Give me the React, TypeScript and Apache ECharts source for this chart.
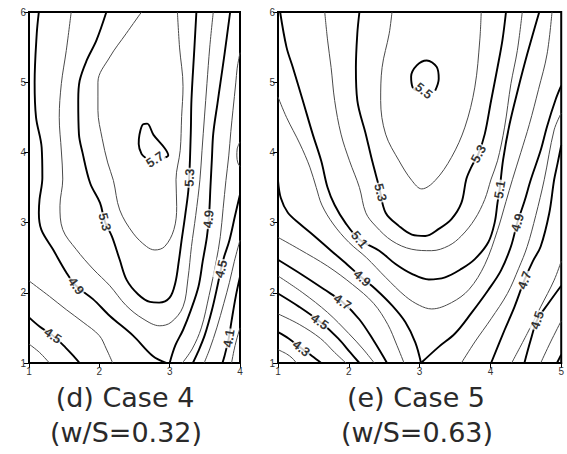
import React, { useEffect, useRef } from "react";
import * as echarts from "echarts";

// ---------- Case 4 (w/S = 0.32), x: 1..4, y: 1..6 ----------
const xRange4 = [1, 4];
const yRange = [1, 6];
const majors4 = [4.1, 4.5, 4.9, 5.3, 5.7];

const c4_49L = [[1.14,6],[1.11,5.69],[1.08,5.0],[1.10,4.5],[1.18,4.07],[1.19,3.64],[1.15,3.33],[1.14,3.14],[1.175,2.9],[1.34,2.62],[1.53,2.29],[1.67,2.1],[1.91,1.91],[2.15,1.67],[2.48,1.39],[2.76,1.10],[2.95,1.0]];
const c4_49R = [[3.0,1.0],[3.08,1.25],[3.19,1.47],[3.30,1.75],[3.41,2.09],[3.47,2.45],[3.53,2.80],[3.56,3.1],[3.58,3.51],[3.60,3.9],[3.62,4.27],[3.68,4.7],[3.72,4.98],[3.78,5.4],[3.86,6.0]];
const c4_51 = [[1.60,6],[1.53,5.45],[1.46,4.98],[1.43,4.5],[1.46,4.02],[1.48,3.62],[1.44,3.24],[1.48,2.9],[1.67,2.62],[1.91,2.34],[2.15,2.1],[2.38,1.82],[2.62,1.63],[2.86,1.53],[3.02,1.58],[3.19,1.80],[3.26,2.2],[3.31,2.66],[3.37,3.1],[3.43,3.61],[3.46,4.03],[3.53,4.98],[3.57,5.5],[3.62,6]];
const c4_53 = [[2.10,6],[1.96,5.60],[1.82,5.31],[1.72,5.02],[1.70,4.74],[1.71,4.26],[1.76,4.0],[1.87,3.56],[2.01,3.28],[2.08,3.01],[2.18,2.80],[2.29,2.47],[2.39,2.18],[2.55,1.98],[2.72,1.87],[2.85,1.86],[3.0,1.93],[3.08,2.14],[3.13,2.45],[3.17,2.75],[3.22,3.1],[3.27,3.51],[3.30,4.27],[3.31,4.75],[3.35,5.46],[3.38,6]];
const c4_55 = [[2.60,6],[2.38,5.69],[2.15,5.36],[1.98,5.0],[1.98,4.6],[2.04,4.2],[2.12,3.85],[2.20,3.6],[2.29,3.18],[2.48,2.85],[2.67,2.66],[2.79,2.61],[2.93,2.66],[3.06,2.9],[3.10,3.23],[3.09,3.61],[3.15,4.03],[3.17,4.51],[3.19,4.94],[3.14,5.5],[3.11,6]];
const c4_57 = [[2.92,3.92],[2.98,3.96],[2.93,4.06],[2.77,4.25],[2.68,4.41],[2.62,4.40],[2.57,4.25],[2.56,4.12],[2.60,3.98],[2.66,3.92]];
const c4_47R = [[4.0,5.42],[3.96,5.2],[3.94,4.99],[3.90,4.6],[3.87,4.3],[3.84,3.95],[3.80,3.6],[3.76,3.2],[3.72,2.8],[3.66,2.44],[3.56,1.96],[3.45,1.5],[3.32,1.2],[3.18,1.0]];
const c4_47W = [[4.0,4.15],[3.96,4.05],[3.955,3.95],[3.97,3.85],[4.0,3.8]];
const c4_45R = [[4.0,3.4],[3.93,3.1],[3.85,2.75],[3.77,2.5],[3.73,2.34],[3.68,2.1],[3.60,1.75],[3.50,1.4],[3.40,1.15],[3.33,1.0]];
const c4_43R = [[4.0,2.75],[3.92,2.45],[3.85,2.15],[3.77,1.85],[3.67,1.5],[3.57,1.2],[3.49,1.0]];
const c4_41R = [[4.0,2.23],[3.94,1.95],[3.88,1.6],[3.84,1.35],[3.78,1.1],[3.75,1.0]];
const c4_39R = [[4.0,1.5],[3.93,1.25],[3.88,1.0]];
const c4_47L = [[1.0,2.17],[1.29,1.95],[1.53,1.76],[1.77,1.58],[2.0,1.39],[2.10,1.2],[2.19,1.0]];
const c4_45L = [[1.0,1.65],[1.15,1.52],[1.34,1.39],[1.52,1.22],[1.65,1.08],[1.72,1.0]];
const c4_43L = [[1.0,1.27],[1.15,1.15],[1.29,1.0]];

const lines4 = [
  { level: 4.9, pts: c4_49L }, { level: 4.9, pts: c4_49R }, { level: 5.1, pts: c4_51 },
  { level: 5.3, pts: c4_53 }, { level: 5.5, pts: c4_55 }, { level: 5.7, pts: c4_57 },
  { level: 4.7, pts: c4_47R }, { level: 4.7, pts: c4_47W }, { level: 4.5, pts: c4_45R },
  { level: 4.3, pts: c4_43R }, { level: 4.1, pts: c4_41R }, { level: 3.9, pts: c4_39R },
  { level: 4.7, pts: c4_47L }, { level: 4.5, pts: c4_45L }, { level: 4.3, pts: c4_43L },
];
const labels4 = [["4.9",1.67,2.1],["5.3",2.08,3.01],["4.5",1.34,1.39],["5.7",2.79,3.9],["5.3",3.28,3.64],["4.9",3.55,3.05],["4.5",3.73,2.34],["4.1",3.84,1.35]];

// ---------- Case 5 (w/S = 0.63), x: 1..5, y: 1..6 ----------
const xRange5 = [1, 5];
const majors5 = [4.3, 4.5, 4.7, 4.9, 5.1, 5.3, 5.5];

const c5_55 = [[3.22,4.88],[3.27,5.05],[3.24,5.22],[3.10,5.31],[2.96,5.24],[2.88,5.08],[2.90,4.93],[2.96,4.88]];
const c5_54 = [[2.61,6],[2.57,5.69],[2.47,5.21],[2.45,4.74],[2.52,4.26],[2.71,3.88],[2.89,3.60],[3.03,3.48],[3.22,3.60],[3.45,3.93],[3.64,4.36],[3.78,4.93],[3.85,5.60],[3.87,6]];
const c5_53 = [[2.15,6],[2.12,5.69],[2.10,5.21],[2.12,4.74],[2.24,4.26],[2.33,3.88],[2.43,3.5],[2.52,3.14],[2.71,2.95],[2.89,2.83],[3.08,2.81],[3.27,2.91],[3.45,3.05],[3.59,3.28],[3.66,3.62],[3.73,3.79],[3.83,3.98],[3.92,4.26],[4.01,4.74],[4.10,5.21],[4.17,5.6],[4.22,6]];
const c5_52 = [[1.66,6],[1.70,5.6],[1.75,5.21],[1.80,4.74],[1.89,4.26],[2.01,3.88],[2.15,3.5],[2.24,3.14],[2.38,2.95],[2.61,2.74],[2.89,2.62],[3.17,2.60],[3.41,2.67],[3.59,2.81],[3.78,3.05],[3.92,3.33],[4.01,3.62],[4.10,3.88],[4.20,4.36],[4.29,4.98],[4.38,5.45],[4.45,6]];
const c5_51 = [[1.03,6],[1.12,5.5],[1.21,5.21],[1.35,4.74],[1.49,4.26],[1.61,3.88],[1.70,3.5],[1.80,3.25],[1.95,3.0],[2.15,2.76],[2.43,2.60],[2.66,2.41],[2.89,2.27],[3.13,2.19],[3.36,2.22],[3.59,2.34],[3.78,2.48],[3.97,2.72],[4.06,3.0],[4.10,3.28],[4.13,3.47],[4.18,3.9],[4.27,4.4],[4.39,4.9],[4.52,5.4],[4.69,6]];
const c5_50 = [[1.0,4.79],[1.12,4.5],[1.31,4.12],[1.45,3.79],[1.54,3.5],[1.62,3.25],[1.78,2.98],[2.0,2.72],[2.25,2.5],[2.52,2.22],[2.80,1.95],[3.0,1.82],[3.17,1.77],[3.45,1.86],[3.70,2.05],[3.92,2.4],[4.10,2.89],[4.22,3.3],[4.31,3.61],[4.43,4.0],[4.55,4.4],[4.68,4.9],[4.80,5.4],[4.87,6]];
const c5_49L = [[1.0,3.6],[1.04,3.35],[1.14,3.14],[1.31,2.98],[1.5,2.82],[1.75,2.6],[1.98,2.4],[2.19,2.21],[2.38,2.05],[2.61,1.82],[2.80,1.58],[2.94,1.29],[3.02,1.0]];
const c5_49R = [[3.02,1.0],[3.27,1.23],[3.50,1.42],[3.73,1.71],[3.97,2.04],[4.15,2.32],[4.29,2.66],[4.38,3.0],[4.48,3.3],[4.57,3.61],[4.71,4.03],[4.80,4.37],[4.92,4.75],[5.0,4.95]];
const c5_48L = [[1.0,2.79],[1.3,2.62],[1.7,2.38],[2.05,2.12],[2.35,1.85],[2.55,1.55],[2.68,1.25],[2.78,1.0]];
const c5_48R = [[3.59,1.0],[3.78,1.30],[4.01,1.63],[4.24,1.99],[4.40,2.35],[4.52,2.66],[4.64,3.1],[4.76,3.61],[4.90,4.32],[5.0,4.56]];
const c5_47L = [[1.0,2.47],[1.35,2.25],[1.65,2.05],[1.91,1.87],[2.15,1.62],[2.35,1.32],[2.54,1.0]];
const c5_47R = [[4.01,1.0],[4.20,1.47],[4.34,1.80],[4.48,2.18],[4.60,2.45],[4.71,2.66],[4.83,3.13],[4.90,3.61],[4.95,3.85],[5.0,4.1]];
const c5_46L = [[1.0,2.24],[1.35,2.0],[1.7,1.72],[2.0,1.42],[2.2,1.2],[2.36,1.0]];
const c5_46R = [[4.30,1.0],[4.52,1.42],[4.71,1.80],[4.90,2.18],[5.0,2.45]];
const c5_45L = [[1.0,1.99],[1.3,1.8],[1.59,1.59],[1.85,1.35],[2.02,1.15],[2.15,1.0]];
const c5_45R = [[4.48,1.0],[4.57,1.33],[4.66,1.61],[4.82,1.85],[5.0,2.1]];
const c5_44L = [[1.0,1.70],[1.3,1.55],[1.6,1.35],[1.8,1.15],[1.96,1.0]];
const c5_44R = [[4.71,1.0],[4.85,1.3],[5.0,1.6]];
const c5_43L = [[1.0,1.44],[1.15,1.35],[1.33,1.21],[1.48,1.1],[1.61,1.0]];
const c5_43R = [[4.94,1.0],[5.0,1.12]];
const c5_42L = [[1.0,1.19],[1.12,1.13],[1.2,1.07],[1.26,1.0]];

const lines5 = [
  { level: 5.5, pts: c5_55 }, { level: 5.4, pts: c5_54 }, { level: 5.3, pts: c5_53 },
  { level: 5.2, pts: c5_52 }, { level: 5.1, pts: c5_51 }, { level: 5.0, pts: c5_50 },
  { level: 4.9, pts: c5_49L }, { level: 4.9, pts: c5_49R }, { level: 4.8, pts: c5_48L },
  { level: 4.8, pts: c5_48R }, { level: 4.7, pts: c5_47L }, { level: 4.7, pts: c5_47R },
  { level: 4.6, pts: c5_46L }, { level: 4.6, pts: c5_46R }, { level: 4.5, pts: c5_45L },
  { level: 4.5, pts: c5_45R }, { level: 4.4, pts: c5_44L }, { level: 4.4, pts: c5_44R },
  { level: 4.3, pts: c5_43L }, { level: 4.3, pts: c5_43R }, { level: 4.2, pts: c5_42L },
];
const labels5 = [["5.5",3.06,4.88],["5.3",2.45,3.43],["5.3",3.83,3.98],["5.1",2.15,2.76],["5.1",4.13,3.47],["4.9",2.19,2.21],["4.9",4.38,3.0],["4.7",1.91,1.87],["4.7",4.48,2.18],["4.5",1.59,1.59],["4.5",4.66,1.61],["4.3",1.33,1.21]];

const captions4 = ["(d) Case 4", "(w/S=0.32)"];
const captions5 = ["(e) Case 5", "(w/S=0.63)"];

// ---------- layout ----------
const G4 = { left: 29, top: 12, width: 211, height: 351 };
const G5 = { left: 278, top: 12, width: 286, height: 351 };
const LABEL_FONT = "Arial, 'Liberation Sans', sans-serif";

function angleAt(lines: any[], level: number, x: number, y: number, sx: number, sy: number) {
  let best = Infinity;
  let ang = 0;
  for (const l of lines) {
    if (Math.abs(l.level - level) > 1e-6) continue;
    for (let i = 0; i < l.pts.length - 1; i++) {
      const [x1, y1] = l.pts[i];
      const [x2, y2] = l.pts[i + 1];
      const ax = (x1 - x) * sx, ay = (y1 - y) * sy, bx = (x2 - x) * sx, by = (y2 - y) * sy;
      const dx = bx - ax, dy = by - ay;
      const len2 = dx * dx + dy * dy || 1;
      let t = -(ax * dx + ay * dy) / len2;
      t = Math.max(0, Math.min(1, t));
      const px = ax + t * dx, py = ay + t * dy;
      const d = px * px + py * py;
      if (d < best) {
        best = d;
        let a = (Math.atan2(dy, dx) * 180) / Math.PI;
        if (a > 90) a -= 180;
        if (a < -90) a += 180;
        ang = a;
      }
    }
  }
  return ang;
}

function buildLineSeries(lines: any[], majors: number[], idx: number) {
  return lines.map((l) => {
    const major = majors.some((m) => Math.abs(m - l.level) < 1e-6);
    return {
      type: "line",
      xAxisIndex: idx,
      yAxisIndex: idx,
      data: l.pts,
      symbol: "none",
      showSymbol: false,
      smooth: 0.35,
      silent: true,
      z: 2,
      lineStyle: { width: major ? 1.9 : 1, color: major ? "#000" : "#4a4a4a" },
    };
  });
}

function buildLabelSeries(lines: any[], labels: any[], idx: number, g: any, xr: number[]) {
  const sx = g.width / (xr[1] - xr[0]);
  const sy = g.height / (yRange[1] - yRange[0]);
  const base = {
    show: true,
    position: "inside",
    align: "center",
    verticalAlign: "middle",
    fontSize: 13,
    fontWeight: "bold",
    fontFamily: LABEL_FONT,
    color: "#000",
    backgroundColor: "#fff",
    padding: [0, 1],
  };
  return {
    type: "scatter",
    xAxisIndex: idx,
    yAxisIndex: idx,
    symbolSize: 1,
    silent: true,
    z: 5,
    itemStyle: { color: "rgba(0,0,0,0)" },
    label: { ...base, formatter: (p: any) => p.name },
    data: labels.map(([t, x, y]: any) => ({
      name: t,
      value: [x, y],
      label: { ...base, formatter: t, rotate: angleAt(lines, parseFloat(t), x, y, sx, sy) },
    })),
  };
}

function axisX(idx: number, xr: number[]) {
  return {
    type: "value",
    gridIndex: idx,
    min: xr[0],
    max: xr[1],
    interval: 1,
    axisLine: { show: true, onZero: false, lineStyle: { color: "#000", width: 2 } },
    axisTick: { show: true, length: 5, lineStyle: { color: "#000", width: 1 } },
    axisLabel: { fontSize: 10, color: "#333", margin: 3, fontFamily: LABEL_FONT },
    splitLine: { show: false },
  };
}
function axisY(idx: number) {
  return {
    type: "value",
    gridIndex: idx,
    min: yRange[0],
    max: yRange[1],
    interval: 1,
    axisLine: { show: true, onZero: false, lineStyle: { color: "#000", width: 2 } },
    axisTick: { show: true, length: 5, lineStyle: { color: "#000", width: 1 } },
    axisLabel: { fontSize: 10, color: "#333", margin: 3, fontFamily: LABEL_FONT },
    splitLine: { show: false },
  };
}

export default function App() {
  const ref = useRef<HTMLDivElement>(null);
  useEffect(() => {
    if (!ref.current) return;
    const chart = echarts.init(ref.current, null, { renderer: "svg" });
    const capStyle = { font: "27px 'DejaVu Sans', sans-serif", fill: "#2a2a2a", textAlign: "center", textVerticalAlign: "middle" };
    chart.setOption({
      animation: false,
      backgroundColor: "#fff",
      grid: [
        { ...G4, show: true, borderColor: "#000", borderWidth: 2, backgroundColor: "transparent" },
        { ...G5, show: true, borderColor: "#000", borderWidth: 2, backgroundColor: "transparent" },
      ],
      xAxis: [axisX(0, xRange4), axisX(1, xRange5)],
      yAxis: [axisY(0), axisY(1)],
      series: [
        ...buildLineSeries(lines4, majors4, 0),
        ...buildLineSeries(lines5, majors5, 1),
        buildLabelSeries(lines4, labels4, 0, G4, xRange4),
        buildLabelSeries(lines5, labels5, 1, G5, xRange5),
      ],
      graphic: [
        { type: "text", x: 125, y: 397, style: { ...capStyle, text: captions4[0] } },
        { type: "text", x: 126, y: 432, style: { ...capStyle, text: captions4[1] } },
        { type: "text", x: 416, y: 397, style: { ...capStyle, text: captions5[0] } },
        { type: "text", x: 417, y: 432, style: { ...capStyle, text: captions5[1] } },
      ],
    });
    return () => chart.dispose();
  }, []);
  return <div ref={ref} style={{ position: "fixed", left: 0, top: 0, width: 567, height: 454 }} />;
}
